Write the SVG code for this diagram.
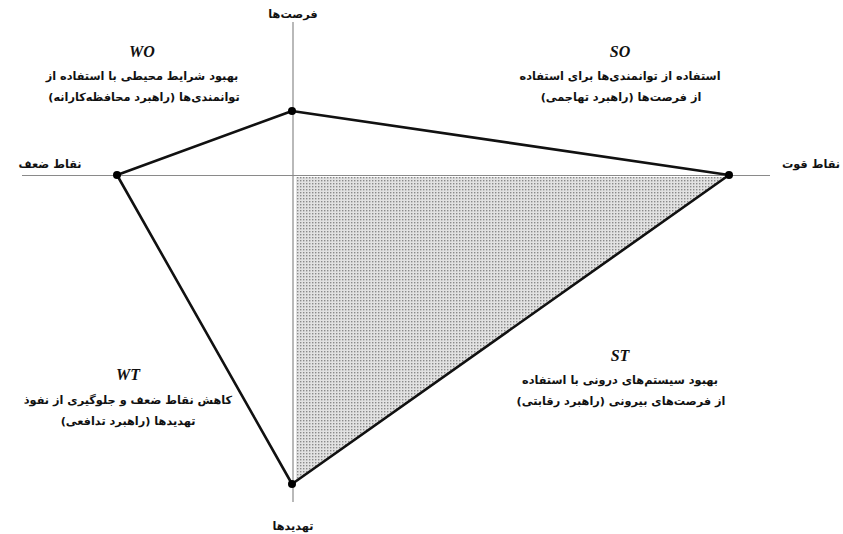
<svg xmlns="http://www.w3.org/2000/svg" width="843" height="534" viewBox="0 0 843 534">
<style>
.fa{font-family:"DejaVu Sans","Noto Sans",sans-serif;font-weight:bold;font-size:11.3px;fill:#111;text-anchor:middle;direction:rtl}
.ti{font-family:"Liberation Serif",serif;font-weight:bold;font-style:italic;font-size:16px;fill:#111;text-anchor:middle}
.axis{stroke:#8a8a8a;stroke-width:1.2;fill:none}
.edge{stroke:#111;stroke-width:2.6;fill:none;stroke-linejoin:round}
.pt{fill:#000}
</style>
<defs>
<pattern id="dots" width="3" height="3" patternUnits="userSpaceOnUse">
<rect width="3" height="3" fill="#e2e2e2"/>
<rect x="0" y="0" width="1.4" height="1.4" fill="#8a8a8a"/>
</pattern>
</defs>
<rect width="843" height="534" fill="#fff"/>
<g id="shade"><polygon points="296,177 727,177 296,480" fill="url(#dots)"/></g>
<g id="axes">
<line class="axis" x1="293" y1="22" x2="293" y2="502"/>
<line class="axis" x1="22" y1="175.5" x2="770" y2="175.5"/>
</g>
<g id="connectors">
<polyline class="edge" points="117,175 292,111 729,175 292,484 117,175"/>
</g>
<g id="node-top"><circle class="pt" cx="292" cy="111" r="4"/><text class="fa" x="293" y="18">فرصت‌ها</text></g>
<g id="node-left"><circle class="pt" cx="117" cy="175" r="4"/><text class="fa" x="50" y="168">نقاط ضعف</text></g>
<g id="node-right"><circle class="pt" cx="729" cy="175" r="4"/><text class="fa" x="811" y="168">نقاط قوت</text></g>
<g id="node-bottom"><circle class="pt" cx="292" cy="484" r="4"/><text class="fa" x="293" y="530">تهدیدها</text></g>
<g id="WO">
<text class="ti" x="142" y="57">WO</text>
<text class="fa" x="142" y="80">بهبود شرایط محیطی با استفاده از</text>
<text class="fa" x="144" y="101">توانمندی‌ها (راهبرد محافظه‌کارانه)</text>
</g>
<g id="SO">
<text class="ti" x="620" y="57">SO</text>
<text class="fa" x="620" y="80">استفاده از توانمندی‌ها برای استفاده</text>
<text class="fa" x="621" y="101">از فرصت‌ها (راهبرد تهاجمی)</text>
</g>
<g id="ST">
<text class="ti" x="620" y="361">ST</text>
<text class="fa" x="620" y="384">بهبود سیستم‌های درونی با استفاده</text>
<text class="fa" x="621" y="405">از فرصت‌های بیرونی (راهبرد رقابتی)</text>
</g>
<g id="WT">
<text class="ti" x="128" y="380">WT</text>
<text class="fa" x="128" y="404">کاهش نقاط ضعف و جلوگیری از نفوذ</text>
<text class="fa" x="128" y="425">تهدیدها (راهبرد تدافعی)</text>
</g>
</svg>
